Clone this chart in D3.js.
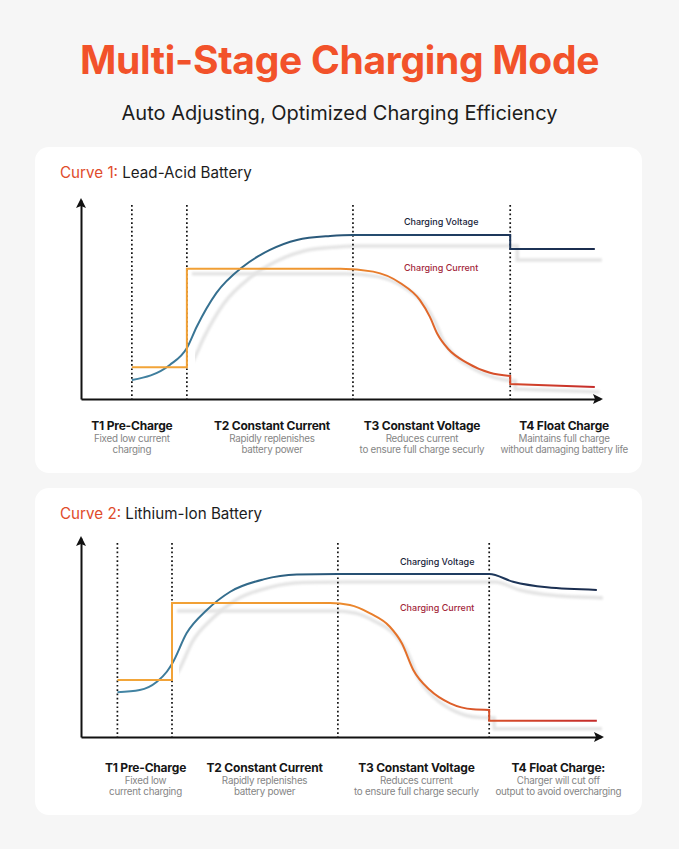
<!DOCTYPE html>
<head>
  <meta charset="utf-8">
  <script src="https://cdn.jsdelivr.net/npm/d3@7"></script>
  <style>
    body {
      margin: 0;
      background: #f6f6f6;
      font-family: Inter, "Noto Sans", Arial, sans-serif;
    }
    svg { display: block; }
  </style>
</head>

<body>
  <div id="chart"></div>
  <script>

  // x = charging time (0..100), y = relative level (0..100); no units on the chart
  // each series is a list of segments, a vertical step joins two segments

  var stages1 = [9.8, 20.4, 52.4, 82.7]
  var voltage1 = [
    [[9.8, 9.5], [17.1, 17.1], [20.4, 25.6], [22.3, 36.3], [26.1, 53.3], [31.2, 66.5], [36.4, 74.9], [41.6, 79.9], [48, 81.9], [52.4, 82.4], [82.7, 82.4]],
    [[82.7, 75.4], [99, 75.4]]
  ]
  var current1 = [
    [[9.8, 16], [20.4, 16]],
    [[20.4, 65.5], [50, 65.5], [56.3, 64], [61.5, 58.3], [65.3, 49.7], [67.2, 41.4], [68.7, 32.5], [70.8, 25], [74.3, 18.3], [78.8, 13.2], [82.7, 11.6]],
    [[82.7, 7.5], [99, 6]]
  ]
  var stageTitles1 = ["T1 Pre-Charge", "T2 Constant Current", "T3 Constant Voltage", "T4 Float Charge"]
  var stageNotes1 = [
    ["Fixed low current", "charging"],
    ["Rapidly replenishes", "battery power"],
    ["Reduces current", "to ensure full charge securly"],
    ["Maintains full charge", "without damaging battery life"]
  ]
  var stageLabelAt1 = [9.8, 36.8, 65.7, 93.1]

  var stages2 = [7, 17.5, 49.4, 78.5]
  var voltage2 = [
    [[7, 22.5], [11.3, 23.6], [14.6, 27.8], [16.5, 32.8], [17.6, 37.2], [20.3, 52.1], [24.2, 63.8], [28.7, 73], [35.1, 79.2], [41.5, 81.6], [49.4, 81.9], [78.5, 81.9], [83.1, 78], [89.6, 75.2], [99.2, 73.9]]
  ]
  var current2 = [
    [[7, 28.6], [17.5, 28.6]],
    [[17.5, 67.3], [47.9, 67.3], [51.7, 66.3], [55.6, 62.1], [59.4, 55.4], [61.7, 47.1], [63.9, 33.7], [67.1, 23.6], [71, 16.9], [75.4, 13.9], [78.5, 13.6]],
    [[78.5, 8.2], [99.2, 8.2]]
  ]
  var stageTitles2 = ["T1 Pre-Charge", "T2 Constant Current", "T3 Constant Voltage", "T4 Float Charge:"]
  var stageNotes2 = [
    ["Fixed low", "current charging"],
    ["Rapidly replenishes", "battery power"],
    ["Reduces current", "to ensure full charge securly"],
    ["Charger will cut off", "output to avoid overcharging"]
  ]
  var stageLabelAt2 = [12.4, 35.3, 64.5, 91.8]

  var width = 679, height = 849

  var svg = d3.select("#chart").append("svg")
      .attr("width", width)
      .attr("height", height)

  var defs = svg.append("defs")
  defs.append("filter").attr("id", "soft")
      .attr("x", "-10%").attr("y", "-10%").attr("width", "120%").attr("height", "120%")
    .append("feGaussianBlur").attr("stdDeviation", 0.8)

  svg.append("text")
      .attr("x", width / 2)
      .attr("y", 74)
      .attr("text-anchor", "middle")
      .style("font-size", "39px")
      .style("font-weight", 700)
      .style("letter-spacing", "-0.3px")
      .style("fill", "#f2522a")
      .text("Multi-Stage Charging Mode")

  svg.append("text")
      .attr("x", width / 2)
      .attr("y", 120)
      .attr("text-anchor", "middle")
      .style("font-size", "20px")
      .style("fill", "#1c1c1c")
      .text("Auto Adjusting, Optimized Charging Efficiency")

  function panel(o) {
    var g = svg.append("g")

    g.append("rect")
        .attr("x", 35).attr("y", o.top)
        .attr("width", 607).attr("height", o.h)
        .attr("rx", 14)
        .style("fill", "#fff")

    var head = g.append("text")
        .attr("x", 60)
        .attr("y", o.top + 31)
        .style("font-size", "15.2px")
    head.append("tspan").style("fill", "#e04b2b").text(o.curve + " ")
    head.append("tspan").style("fill", "#1c1c1c").text(o.battery)

    var x = d3.scaleLinear().domain([0, 100]).range(o.xr)
    var y = d3.scaleLinear().domain([0, 100]).range(o.yr)

    // gradients along x
    var gv = defs.append("linearGradient").attr("id", "gv" + o.id)
        .attr("gradientUnits", "userSpaceOnUse")
        .attr("x1", x(0)).attr("x2", x(100)).attr("y1", 0).attr("y2", 0)
    gv.append("stop").attr("offset", "0%").attr("stop-color", "#4a8fae")
    gv.append("stop").attr("offset", "35%").attr("stop-color", "#2f6585")
    gv.append("stop").attr("offset", "70%").attr("stop-color", "#1f3d62")
    gv.append("stop").attr("offset", "100%").attr("stop-color", "#1a2b4c")

    var gc = defs.append("linearGradient").attr("id", "gc" + o.id)
        .attr("gradientUnits", "userSpaceOnUse")
        .attr("x1", x(0)).attr("x2", x(100)).attr("y1", 0).attr("y2", 0)
    gc.append("stop").attr("offset", "0%").attr("stop-color", "#f3aa3c")
    gc.append("stop").attr("offset", "45%").attr("stop-color", "#ef962f")
    gc.append("stop").attr("offset", "62%").attr("stop-color", "#e4712a")
    gc.append("stop").attr("offset", "85%").attr("stop-color", "#d2442a")
    gc.append("stop").attr("offset", "100%").attr("stop-color", "#c42a2a")

    var line = d3.line()
        .x(function(d) { return x(d[0]) })
        .y(function(d) { return y(d[1]) })
        .curve(d3.curveMonotoneX)

    function pathOf(segs) {
      return segs.map(function(s, i) {
        var p = line(s)
        return i ? "L" + p.slice(1) : p
      }).join("")
    }

    g.append("clipPath").attr("id", "clip" + o.id)
      .append("rect")
        .attr("x", x(o.stages[1]) + 1).attr("y", y(100))
        .attr("width", x(100) - x(o.stages[1]) + 20).attr("height", y(0) - y(100))

    // soft grey ghost lines under the curves
    g.append("path")
        .attr("d", pathOf(o.voltage))
        .attr("clip-path", "url(#clip" + o.id + ")")
        .attr("transform", "translate(" + o.vShift + ")")
        .attr("filter", "url(#soft)")
        .style("fill", "none")
        .style("stroke", "#e4e4e4")
        .style("stroke-width", 3.5)

    g.append("path")
        .attr("d", pathOf(o.current.slice(1)))
        .attr("transform", "translate(" + o.cShift + ")")
        .attr("filter", "url(#soft)")
        .style("fill", "none")
        .style("stroke", "#e4e4e4")
        .style("stroke-width", 3.5)

    // stage boundaries
    g.selectAll(".stage")
        .data(o.stages)
      .enter().append("line")
        .attr("class", "stage")
        .attr("x1", function(d) { return x(d) })
        .attr("x2", function(d) { return x(d) })
        .attr("y1", y(97.5))
        .attr("y2", y(0))
        .style("stroke", "#111")
        .style("stroke-width", 1.7)
        .style("stroke-dasharray", "1.7,2.6")

    // axes: bare lines with arrow heads
    var xAxis = g.append("g")
        .attr("transform", "translate(0," + y(0) + ")")
        .call(d3.axisBottom(x).tickValues([]).tickSizeOuter(0))
    xAxis.select(".domain").style("stroke", "#111").style("stroke-width", 2)

    var yAxis = g.append("g")
        .attr("transform", "translate(" + x(0) + ",0)")
        .call(d3.axisLeft(y).tickValues([]).tickSizeOuter(0))
    yAxis.select(".domain").style("stroke", "#111").style("stroke-width", 2)

    g.append("path")
        .attr("d", "M" + (x(100) + 3) + "," + y(0) + "l-10,-5l2,5l-2,5z")
        .style("fill", "#111")
    g.append("path")
        .attr("d", "M" + x(0) + "," + (y(100) - 2) + "l-5,10l5,-2l5,2z")
        .style("fill", "#111")

    g.append("path")
        .attr("d", pathOf(o.voltage))
        .style("fill", "none")
        .style("stroke", "url(#gv" + o.id + ")")
        .style("stroke-width", 2)

    g.append("path")
        .attr("d", pathOf(o.current))
        .style("fill", "none")
        .style("stroke", "url(#gc" + o.id + ")")
        .style("stroke-width", 2)

    g.append("text")
        .attr("x", x(o.labelAt[0]))
        .attr("y", y(o.labelAt[1]))
        .attr("text-anchor", "middle")
        .style("font-size", "9px")
        .style("font-weight", 500)
        .style("fill", "#17233a")
        .text("Charging Voltage")

    g.append("text")
        .attr("x", x(o.labelAt[0]))
        .attr("y", y(o.labelAt[2]))
        .attr("text-anchor", "middle")
        .style("font-size", "9px")
        .style("font-weight", 500)
        .style("fill", "#a3283b")
        .text("Charging Current")

    var lab = g.selectAll(".stage-label")
        .data(o.titles)
      .enter().append("g")
        .attr("class", "stage-label")
        .attr("transform", function(d, i) { return "translate(" + x(o.stageLabelAt[i]) + "," + o.labelTop + ")" })

    lab.append("text")
        .attr("text-anchor", "middle")
        .style("font-size", "12px")
        .style("font-weight", 700)
        .style("letter-spacing", "-0.2px")
        .style("fill", "#161616")
        .text(function(d) { return d })

    lab.selectAll(".note")
        .data(function(d, i) { return o.notes[i] })
      .enter().append("text")
        .attr("class", "note")
        .attr("text-anchor", "middle")
        .attr("y", function(d, i) { return 12 + i * 11 })
        .style("font-size", "9.8px")
        .style("letter-spacing", "-0.25px")
        .style("fill", "#858585")
        .text(function(d) { return d })
  }

  panel({
    id: 1, top: 147, h: 326,
    curve: "Curve 1:", battery: "Lead-Acid Battery",
    xr: [81, 600], yr: [399, 200],
    stages: stages1, voltage: voltage1, current: current1,
    titles: stageTitles1, notes: stageNotes1, stageLabelAt: stageLabelAt1,
    labelAt: [69.4, 87.4, 64.3], labelTop: 430,
    vShift: "7,11", cShift: "5,5"
  })

  panel({
    id: 2, top: 488, h: 327,
    curve: "Curve 2:", battery: "Lithium-Ion Battery",
    xr: [81, 601], yr: [737, 538],
    stages: stages2, voltage: voltage2, current: current2,
    titles: stageTitles2, notes: stageNotes2, stageLabelAt: stageLabelAt2,
    labelAt: [68.5, 86.4, 63.3], labelTop: 772,
    vShift: "6,8", cShift: "5,8"
  })

  </script>
</body>
